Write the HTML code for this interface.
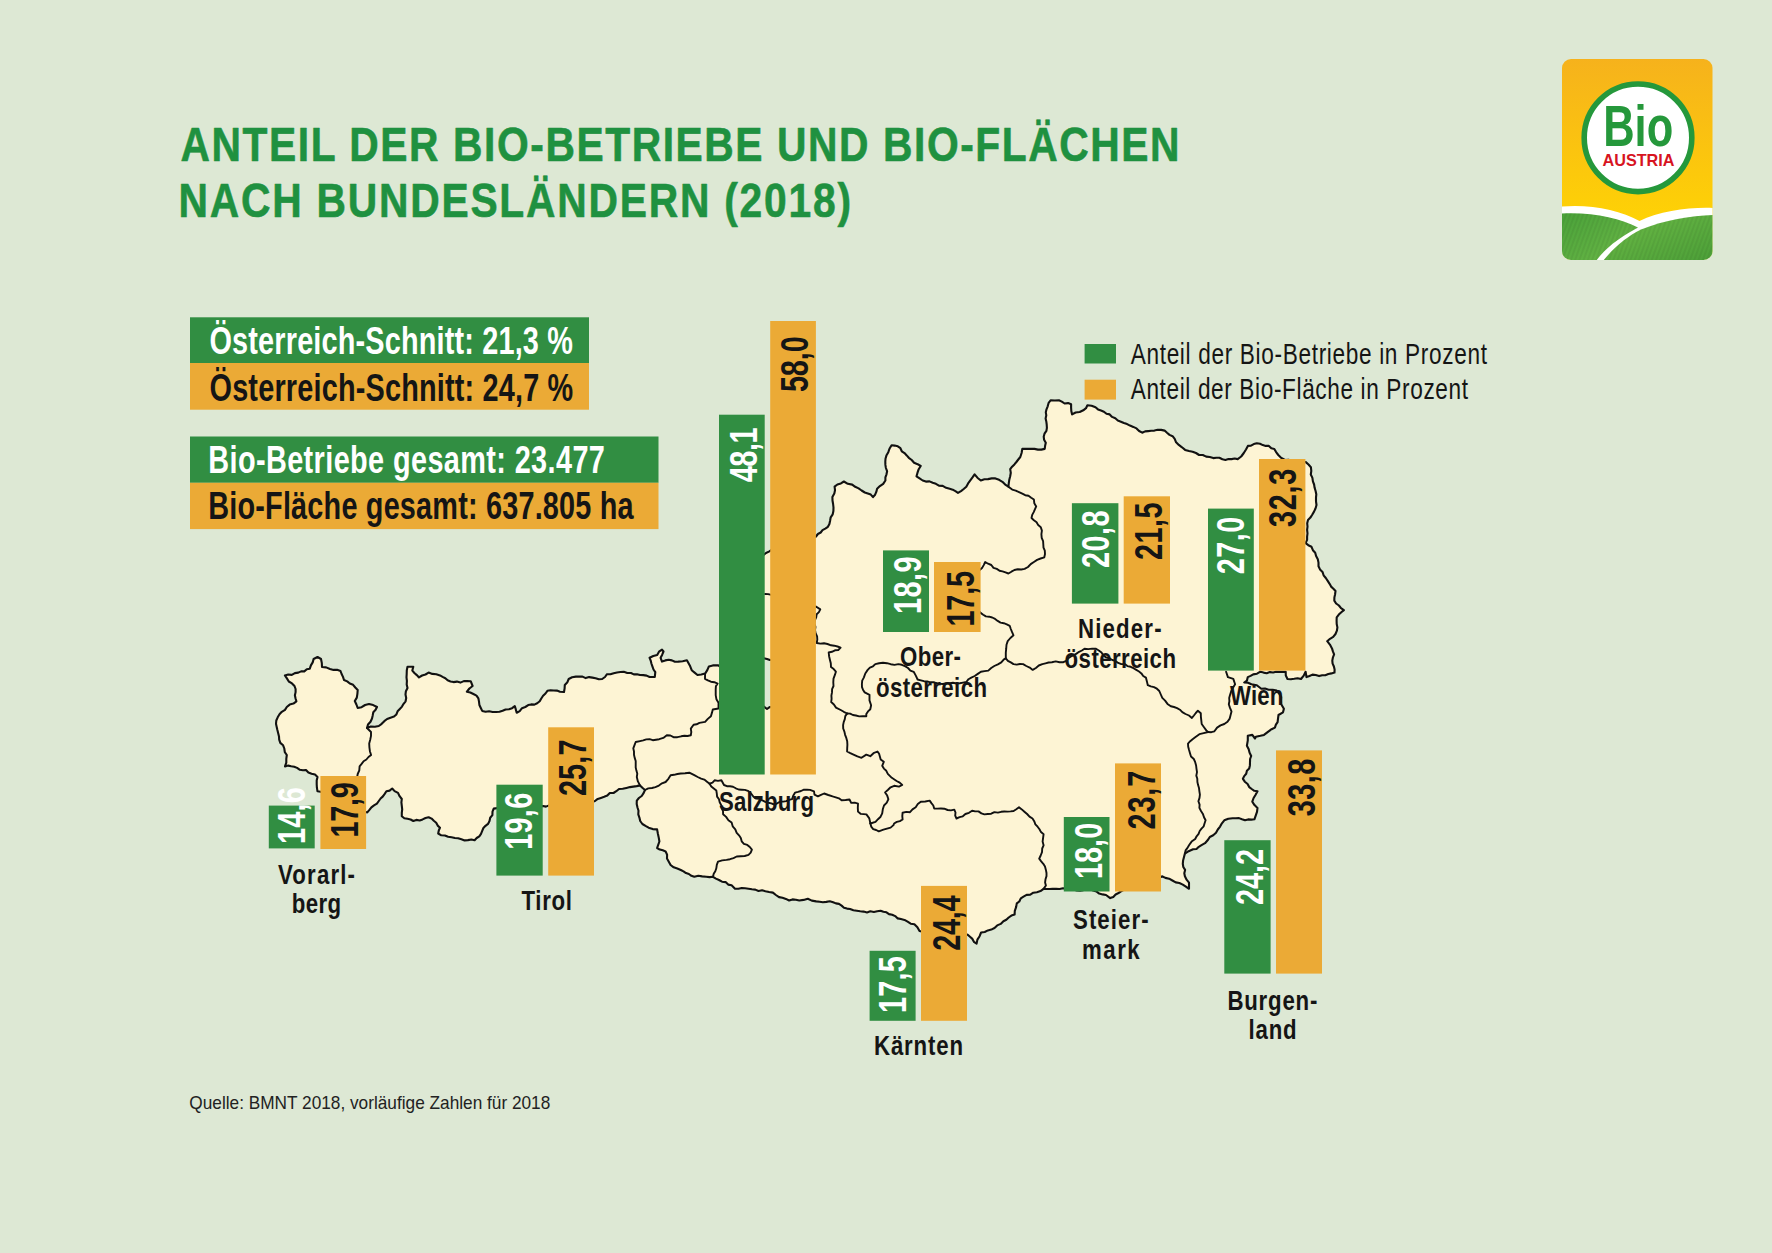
<!DOCTYPE html><html><head><meta charset="utf-8"><style>html,body{margin:0;padding:0;background:#dde8d4;overflow:hidden;width:1772px;height:1253px;}svg{display:block;}text{font-family:"Liberation Sans",sans-serif;}</style></head><body>
<svg width="1772" height="1253" viewBox="0 0 1772 1253">
<rect width="1772" height="1253" fill="#dde8d4"/>
<polygon points="317.5,657.0 321.0,659.0 321.8,663.0 322.0,667.0 326.1,667.4 330.0,669.0 333.5,669.9 337.1,669.8 340.5,671.0 341.6,674.0 343.0,676.9 344.0,680.0 347.2,681.4 349.8,683.5 353.1,684.8 355.3,687.5 357.7,690.0 357.4,693.8 356.8,697.6 354.8,701.0 356.4,704.5 357.7,708.0 361.6,707.2 365.1,705.0 369.0,704.0 373.2,705.1 377.0,707.0 375.6,709.8 373.3,712.2 372.7,715.4 372.0,718.5 370.5,721.7 368.0,724.5 367.0,728.0 370.8,726.6 374.9,726.8 378.8,726.0 381.7,723.8 384.3,721.2 387.1,719.0 390.5,717.7 394.0,716.6 396.4,714.4 397.6,711.3 399.8,709.0 402.0,706.6 403.6,703.8 405.6,701.3 406.2,698.0 405.5,694.5 405.9,691.2 407.5,688.0 406.7,684.5 406.9,680.9 406.5,677.4 406.7,673.9 406.8,670.3 407.5,666.8 413.3,666.8 412.3,670.6 414.4,673.0 416.8,675.1 419.0,677.4 422.1,675.5 425.5,674.5 428.6,672.6 432.3,673.9 436.3,674.2 440.0,675.4 442.6,676.9 445.3,678.2 447.6,680.3 450.5,681.4 453.5,682.1 456.9,681.6 460.4,682.6 463.8,681.1 467.2,681.1 470.7,681.2 472.6,686.0 469.4,688.5 466.9,691.7 470.3,692.5 473.4,694.0 476.5,695.6 478.4,698.4 479.0,701.6 479.4,705.0 480.8,708.0 482.2,710.9 485.6,711.7 489.1,711.3 492.6,712.0 496.0,712.0 499.5,711.8 502.6,710.8 505.6,709.5 509.0,709.2 512.1,708.2 514.8,706.1 515.8,709.4 516.7,712.8 519.7,711.1 522.0,708.2 525.3,707.0 528.2,705.1 531.2,704.4 534.4,704.6 537.2,703.3 539.7,701.3 541.3,698.5 543.1,695.7 545.5,693.5 547.4,690.8 550.6,690.2 553.8,690.5 556.9,690.6 560.0,691.7 564.0,692.0 564.6,688.5 564.8,684.9 567.4,682.2 568.7,679.0 572.1,677.2 575.9,676.6 579.2,676.5 582.5,676.6 585.7,678.1 589.1,677.1 592.4,677.6 595.6,678.2 598.9,679.3 602.2,679.0 605.0,677.0 607.0,674.2 610.4,674.3 613.7,673.2 617.0,672.5 620.4,672.0 623.8,671.8 627.3,673.0 631.0,673.0 633.8,674.4 637.0,674.2 640.0,675.0 643.3,675.1 646.6,675.6 649.6,677.0 654.8,677.0 655.3,672.1 653.5,669.5 652.4,666.4 651.4,663.5 650.7,660.6 649.6,657.8 653.3,656.0 657.2,654.9 659.0,651.7 662.0,649.6 663.5,651.5 662.2,654.7 660.6,657.8 662.0,661.6 665.3,660.4 668.7,659.7 671.9,660.4 674.9,661.8 678.3,661.6 682.7,661.2 686.9,660.2 689.8,665.4 691.7,670.2 694.6,672.6 697.5,675.0 701.3,674.5 705.1,673.6 707.3,670.1 708.9,666.4 712.8,665.4 718.5,665.4 720.9,667.6 721.8,670.9 723.2,673.9 724.5,676.9 726.3,679.6 728.9,681.7 731.1,684.1 733.8,686.2 734.9,689.2 737.6,691.3 739.8,693.7 741.1,696.7 742.0,700.0 745.3,700.6 748.5,701.4 751.9,701.9 755.2,702.5 758.3,703.7 761.5,704.8 764.2,706.9 767.0,709.0 769.6,707.1 772.9,707.0 775.8,706.0 778.3,703.9 781.0,702.5 783.9,701.4 786.9,700.6 790.0,700.0 790.2,696.5 792.0,693.4 793.9,690.3 794.0,686.8 794.4,683.4 795.0,680.0 792.7,677.3 790.3,674.8 788.9,671.6 787.2,668.6 786.7,665.0 785.0,662.0 781.9,662.1 778.7,662.6 776.0,660.3 773.0,659.8 769.9,660.0 767.0,659.0 763.8,658.3 760.4,658.8 757.4,657.5 754.5,655.5 751.4,654.8 748.0,655.0 748.1,651.8 747.1,648.7 746.7,645.5 745.8,642.4 746.7,639.1 746.5,635.9 746.9,632.7 745.8,629.5 744.9,626.4 745.5,623.2 745.0,620.0 746.2,617.0 747.3,614.0 747.8,611.0 748.2,607.9 748.4,604.8 747.5,601.6 747.8,598.5 747.8,595.3 747.1,592.1 746.9,589.0 747.6,586.0 748.6,583.0 750.0,580.0 751.7,577.3 754.1,574.9 754.9,571.7 757.0,569.2 758.9,566.6 759.9,563.5 760.0,560.0 761.8,557.5 763.6,554.9 766.0,553.0 768.9,551.6 771.6,549.9 774.6,548.7 777.9,548.6 781.2,548.7 784.4,548.2 787.1,546.4 790.0,545.0 793.0,544.3 796.1,544.0 798.5,541.7 801.6,541.3 804.8,541.3 807.7,540.6 810.6,539.7 813.3,537.9 816.0,536.5 817.9,534.0 820.7,532.5 822.5,530.1 825.3,528.6 827.9,526.8 829.4,524.0 830.1,520.7 830.7,517.3 832.7,514.3 833.4,511.0 833.5,507.5 833.1,504.0 832.5,500.5 832.4,497.0 834.3,493.6 835.0,490.2 834.6,486.7 837.4,484.5 840.9,483.4 843.9,481.5 847.8,483.8 852.2,484.6 855.2,486.8 858.6,488.4 861.6,490.5 864.8,492.5 867.8,493.5 870.8,494.6 873.0,497.1 875.1,494.7 876.3,491.9 877.1,488.8 879.9,486.1 883.2,483.8 885.4,480.5 885.4,477.4 886.5,474.3 887.1,471.2 885.9,468.0 885.4,464.9 885.3,461.8 885.5,458.7 886.4,455.6 888.3,452.2 889.6,448.5 891.6,445.2 894.7,445.6 897.8,446.3 900.4,448.2 901.8,451.3 904.5,453.1 906.7,455.4 908.8,457.8 911.7,460.0 914.1,462.8 917.6,464.2 920.7,466.0 918.7,469.2 917.5,472.7 916.5,476.3 919.6,478.4 922.7,480.5 925.9,481.6 929.5,481.4 932.7,482.8 935.9,483.8 938.9,485.6 942.7,485.9 946.1,487.8 949.7,488.8 952.7,489.7 955.4,491.2 958.0,492.9 961.0,491.1 963.7,489.0 966.3,486.7 968.1,483.4 970.3,480.4 972.5,477.4 974.6,474.3 977.4,477.7 980.8,480.5 984.4,479.3 988.0,479.1 991.7,478.4 995.4,478.4 999.1,479.8 1002.4,481.8 1005.2,484.6 1008.4,486.7 1008.8,483.2 1009.3,479.7 1010.2,476.3 1010.8,472.8 1010.2,469.2 1012.1,466.7 1014.4,464.4 1016.4,462.0 1018.3,459.5 1020.3,457.0 1021.6,453.0 1022.3,448.9 1025.3,448.8 1028.4,448.9 1031.5,448.9 1034.5,448.9 1037.9,449.6 1041.3,449.6 1044.7,448.9 1045.1,445.8 1045.8,442.7 1044.1,439.7 1043.7,436.7 1044.5,433.7 1046.4,430.9 1046.9,427.8 1046.7,424.5 1046.3,421.4 1045.6,418.4 1046.3,415.3 1045.8,412.3 1046.5,409.3 1047.7,406.3 1048.6,402.9 1050.8,400.2 1054.8,400.5 1058.9,400.2 1061.8,401.6 1064.6,403.5 1068.1,403.1 1071.1,404.2 1071.1,407.6 1071.3,411.0 1072.1,414.4 1075.6,412.5 1079.7,412.0 1083.3,410.3 1086.0,408.2 1087.4,405.2 1091.6,405.8 1095.5,407.3 1098.0,409.4 1101.0,410.5 1103.9,411.7 1106.5,413.8 1109.7,414.4 1112.1,416.9 1115.3,418.3 1117.8,420.5 1120.9,421.7 1123.9,423.0 1127.1,424.1 1130.0,425.6 1133.3,426.9 1136.5,428.4 1139.1,431.0 1142.2,432.7 1145.1,431.4 1148.2,431.1 1151.3,430.8 1154.4,430.6 1157.8,429.8 1161.2,429.9 1164.6,430.6 1167.0,432.8 1169.5,434.9 1172.6,436.2 1174.7,438.8 1176.1,442.3 1178.8,444.9 1182.0,447.3 1185.1,449.9 1189.0,451.0 1192.6,451.7 1196.0,453.0 1199.1,455.0 1202.8,455.0 1206.2,456.6 1209.8,457.0 1213.3,458.1 1216.4,457.7 1219.4,457.7 1222.4,459.2 1225.4,459.9 1228.5,459.0 1231.6,459.1 1234.7,458.5 1237.7,459.1 1241.2,456.5 1243.8,453.0 1246.0,449.5 1247.9,445.9 1251.0,445.7 1253.8,444.1 1256.8,443.3 1260.0,443.8 1262.8,445.1 1265.7,445.9 1268.9,445.9 1271.3,448.2 1274.3,448.9 1276.1,452.1 1278.3,455.0 1281.3,457.9 1285.0,460.0 1288.5,459.7 1291.9,461.0 1295.5,460.1 1298.8,461.8 1302.3,461.8 1305.8,462.1 1308.5,464.5 1310.9,467.2 1311.3,470.8 1310.8,474.5 1312.4,477.9 1312.9,481.4 1314.1,484.5 1314.6,487.8 1315.6,491.0 1316.3,494.3 1316.0,497.7 1316.0,501.3 1316.5,505.0 1315.5,508.5 1313.9,511.9 1312.2,514.8 1310.4,517.6 1308.0,520.0 1307.2,523.3 1307.5,526.6 1307.1,529.9 1307.5,533.3 1307.1,536.6 1307.1,539.9 1305.6,543.1 1308.3,545.2 1311.5,546.8 1312.9,550.2 1315.2,552.7 1316.1,556.1 1317.8,559.2 1318.5,562.6 1318.5,566.2 1320.0,569.4 1322.5,571.9 1323.6,575.3 1325.8,578.0 1327.7,580.9 1329.6,583.8 1331.1,586.6 1333.4,588.7 1335.5,591.0 1335.1,594.2 1334.4,597.4 1334.3,600.6 1336.1,603.5 1338.9,605.5 1341.0,608.2 1343.9,610.1 1341.3,612.3 1338.8,614.6 1336.7,617.3 1336.6,620.7 1336.7,624.0 1337.4,627.4 1336.9,630.7 1335.5,634.0 1333.2,636.9 1330.0,638.8 1327.2,641.2 1329.9,644.6 1332.0,648.4 1332.9,651.4 1334.1,654.3 1332.9,657.5 1332.3,660.6 1332.6,663.6 1333.9,666.5 1334.6,669.5 1334.5,672.6 1331.4,673.4 1328.3,674.0 1325.3,675.2 1322.2,675.3 1319.1,676.1 1315.7,675.0 1312.5,674.6 1309.5,676.0 1306.5,677.1 1305.6,671.7 1303.7,675.6 1301.0,679.0 1297.6,678.2 1294.2,678.8 1290.9,679.2 1287.5,679.0 1285.8,675.5 1285.7,671.7 1282.5,671.9 1279.4,671.9 1276.2,671.8 1273.1,672.5 1269.9,672.1 1266.7,673.2 1263.6,672.6 1260.4,671.7 1257.0,673.7 1253.2,674.4 1250.6,675.9 1247.8,677.1 1246.9,680.7 1244.2,682.5 1248.0,682.7 1251.4,684.3 1256.8,685.2 1261.3,688.8 1265.0,688.5 1268.6,689.7 1272.7,689.8 1276.7,690.6 1279.3,693.5 1281.2,697.0 1281.1,700.6 1281.2,704.2 1283.9,708.7 1283.0,712.3 1278.5,715.0 1278.0,718.6 1277.6,722.2 1275.9,724.7 1274.9,727.6 1271.6,729.2 1268.6,731.3 1264.0,734.9 1260.4,735.8 1255.9,736.7 1255.0,738.5 1252.3,734.9 1247.8,735.8 1247.8,740.3 1246.9,745.7 1248.7,749.3 1249.6,752.8 1251.2,756.0 1250.1,759.0 1250.0,762.2 1249.9,765.4 1249.2,768.5 1246.9,770.7 1246.2,773.8 1244.2,776.1 1242.9,778.8 1244.8,781.7 1247.6,784.0 1249.2,787.1 1251.7,789.0 1254.3,790.8 1257.5,791.3 1255.6,794.7 1253.6,798.0 1252.3,801.7 1254.5,805.1 1257.5,807.9 1257.0,811.9 1255.7,815.6 1254.4,819.3 1251.3,819.6 1248.1,819.4 1245.0,820.3 1242.0,819.3 1239.0,818.1 1235.8,818.2 1232.6,818.3 1228.3,818.7 1224.3,820.3 1221.9,823.3 1220.1,826.6 1217.8,829.5 1216.0,832.8 1213.2,835.3 1209.8,837.0 1207.6,840.3 1205.0,843.2 1201.5,845.2 1198.8,846.8 1196.5,849.0 1193.1,849.2 1190.3,850.5 1187.5,851.8 1184.9,853.5 1184.0,856.9 1183.1,860.4 1182.8,863.9 1183.3,867.0 1185.1,869.9 1184.3,873.2 1184.9,876.3 1186.6,879.7 1189.0,882.6 1189.0,885.7 1189.0,888.8 1185.9,886.7 1182.8,884.6 1179.4,883.0 1175.7,882.4 1172.4,880.5 1169.1,878.7 1165.4,877.9 1162.0,876.3 1159.1,878.1 1156.1,879.6 1152.6,879.7 1149.7,881.4 1146.2,881.6 1142.9,882.1 1140.0,884.0 1136.9,885.3 1134.0,886.8 1130.9,888.1 1127.6,888.8 1124.3,889.6 1121.4,891.2 1118.5,893.0 1115.6,894.5 1113.3,896.9 1110.2,898.1 1106.0,895.0 1102.6,894.4 1099.2,893.6 1096.4,891.4 1093.1,890.5 1090.0,889.0 1086.7,888.9 1083.3,890.1 1080.0,890.7 1076.7,890.5 1073.3,889.2 1070.0,888.9 1066.5,888.6 1063.0,888.2 1059.6,889.0 1056.1,888.9 1052.6,888.9 1049.6,889.0 1046.6,889.0 1043.6,888.9 1040.5,891.1 1036.9,892.2 1033.3,892.7 1030.3,894.6 1026.6,894.9 1023.5,896.7 1020.8,898.4 1019.3,901.5 1016.8,903.4 1016.1,907.1 1014.8,910.8 1014.6,914.6 1011.4,915.6 1008.7,917.5 1006.3,919.8 1003.4,921.3 1000.7,923.9 997.2,925.4 994.5,928.0 991.3,929.6 987.9,930.4 984.7,932.0 981.1,932.5 979.6,936.2 977.4,939.6 976.6,943.6 973.9,941.8 972.4,938.9 970.0,936.8 967.7,934.7 964.5,933.7 961.3,932.9 958.0,933.6 954.8,932.2 951.5,932.3 948.2,933.0 945.0,932.0 941.8,932.7 938.6,932.5 935.4,932.1 932.2,932.3 929.0,932.7 925.8,932.4 922.7,931.8 919.5,931.0 917.4,927.3 914.4,924.2 910.7,923.7 907.6,921.7 904.5,919.9 900.9,919.1 897.7,918.4 895.2,916.1 892.2,914.8 889.0,914.1 886.5,912.3 883.4,911.8 880.6,910.7 877.2,911.3 873.9,912.0 870.3,911.3 867.0,912.4 863.6,911.6 860.2,911.3 856.8,910.7 853.4,910.2 850.1,909.0 847.0,908.6 844.0,907.7 841.6,905.6 839.0,903.9 835.9,903.4 833.1,902.2 829.8,901.3 826.3,901.9 822.9,902.3 819.6,901.8 816.2,901.4 811.8,900.6 807.8,898.8 803.6,899.9 799.3,900.5 795.9,899.7 792.5,899.4 789.1,900.5 785.9,898.9 782.5,897.8 779.0,897.1 775.9,895.0 772.9,892.6 769.1,892.0 765.4,891.2 762.1,890.3 758.5,891.0 755.3,889.6 751.9,889.2 748.5,888.7 745.1,888.3 741.8,888.0 738.4,888.8 735.0,888.7 731.6,885.3 728.2,884.6 725.6,882.1 722.0,881.7 719.0,880.0 715.9,878.6 713.0,876.8 709.6,877.1 706.2,876.8 702.2,876.4 698.3,875.8 694.3,876.8 691.4,875.8 688.9,874.0 686.0,873.1 683.5,871.4 680.8,870.0 677.3,868.5 673.7,867.3 670.6,865.0 668.8,861.8 667.0,858.6 667.1,854.7 665.6,851.4 662.8,850.3 659.8,849.6 657.1,848.0 658.3,844.7 659.4,841.5 658.8,837.9 657.9,833.7 657.1,829.4 652.7,829.1 648.6,827.7 645.5,825.9 642.4,824.0 640.2,821.0 639.4,817.6 638.3,814.3 638.5,810.8 637.5,807.5 636.7,804.1 636.8,800.6 638.9,798.0 641.7,796.0 643.6,793.1 645.0,790.0 642.4,787.8 640.0,785.4 636.7,786.1 633.3,786.6 630.0,787.1 626.4,787.9 622.7,788.7 619.0,789.0 616.3,791.2 613.5,793.0 609.8,793.0 607.3,795.6 604.2,796.8 600.9,797.9 597.7,798.9 595.0,801.0 591.9,802.0 588.9,803.0 585.8,803.6 582.6,803.9 579.5,804.1 576.1,803.2 573.0,803.6 570.0,805.0 567.0,804.5 564.0,805.9 561.1,806.9 558.0,805.8 555.0,804.7 552.0,805.3 549.0,805.4 546.0,806.6 543.0,806.0 539.9,806.3 536.8,805.4 533.7,805.2 530.6,805.0 527.5,804.7 524.5,806.5 521.5,807.8 518.4,808.5 515.3,808.1 512.2,807.5 509.0,806.6 506.0,806.8 502.9,807.1 499.8,807.1 496.8,808.1 493.7,808.6 492.5,811.6 492.4,815.1 490.2,817.7 489.5,821.0 488.0,823.9 485.5,825.8 483.4,828.0 482.2,830.9 481.0,833.8 479.3,836.3 476.7,838.0 474.6,840.2 471.4,839.5 467.9,840.1 464.6,840.4 461.4,839.3 458.1,838.3 454.9,838.0 451.6,837.3 448.1,836.8 444.9,835.5 441.3,835.3 438.2,833.5 438.8,830.5 440.0,827.7 437.7,825.6 436.2,822.7 433.8,820.7 431.6,818.6 428.6,817.2 425.5,818.0 422.6,819.4 419.7,820.5 416.3,819.9 413.3,821.0 410.6,819.5 407.5,818.8 404.3,818.2 401.8,816.2 401.8,812.8 402.2,809.3 401.8,805.9 401.4,802.4 401.8,799.0 399.6,796.2 398.0,792.9 394.6,791.1 392.2,788.5 389.6,790.6 386.4,791.3 384.7,793.9 382.9,796.4 380.6,798.5 378.8,801.0 376.9,803.6 374.0,805.3 371.4,807.3 369.4,809.9 367.3,812.4 364.1,811.5 361.6,808.9 358.2,808.3 355.5,806.2 352.0,805.7 348.8,804.9 346.1,802.6 342.9,801.6 340.0,800.0 337.5,798.2 334.6,797.3 331.4,797.2 328.4,796.5 325.7,795.2 323.1,793.5 320.6,791.7 317.5,791.3 316.9,787.7 316.7,784.1 316.7,780.6 317.5,777.0 315.0,774.6 311.6,773.7 308.4,772.5 306.0,770.0 302.9,770.2 299.9,769.8 297.1,767.9 294.2,766.7 291.2,766.2 288.2,765.6 285.0,766.4 286.3,762.7 286.3,758.8 286.8,755.0 284.8,752.2 284.3,748.5 283.1,745.3 280.3,742.9 279.2,739.6 279.0,736.4 278.2,733.2 277.4,730.1 276.7,727.0 276.0,723.8 276.3,720.5 277.7,717.3 279.5,714.3 281.8,711.8 285.0,709.9 286.8,707.0 289.7,704.6 293.4,703.6 296.4,701.3 295.5,698.3 294.9,695.3 295.6,692.1 295.6,689.0 294.5,686.0 292.0,683.4 288.8,681.5 286.9,678.4 284.9,675.4 288.2,674.5 291.8,674.9 294.9,673.1 298.3,672.6 301.1,671.4 304.3,671.4 306.8,669.2 309.8,668.7 310.9,665.4 312.7,662.4 313.6,659.0" fill="#fdf4d4" stroke="#111" stroke-width="2.1" stroke-linejoin="round"/>
<polyline points="367.0,728.0 371.0,732.0 371.0,735.9 370.2,739.7 369.2,743.4 369.4,747.3 369.9,751.2 371.1,755.0 368.5,757.0 366.4,759.5 363.6,761.2 361.6,763.9 359.6,766.4 359.3,770.4 357.7,774.0 357.0,778.0" fill="none" stroke="#111" stroke-width="1.9" stroke-linejoin="round" stroke-linecap="round"/>
<polyline points="705.1,673.6 705.0,678.8 707.9,680.4 710.9,681.7 714.4,682.2 717.6,683.6 715.9,686.3 715.7,689.4 715.7,695.1 716.4,699.2 718.5,702.8 718.5,708.5 712.8,709.5 711.9,712.9 710.9,716.2 707.8,718.9 705.1,721.9 699.4,722.9 696.6,724.3 693.6,724.8 690.8,728.6 691.3,732.0 690.8,735.3 687.6,736.0 684.4,735.8 681.2,736.3 677.4,737.2 673.5,737.2 670.4,735.5 666.8,735.3 663.3,737.9 659.2,739.2 656.0,739.7 652.8,740.2 649.6,739.2 646.3,739.4 643.2,740.4 640.0,741.1 635.7,742.0 634.5,745.2 633.3,748.4 634.0,751.5 634.0,754.8 634.7,757.9 635.7,761.0 635.7,764.3 635.7,767.5 636.4,770.6 637.3,773.7 636.8,777.0 637.9,781.4 640.0,785.4" fill="none" stroke="#111" stroke-width="1.9" stroke-linejoin="round" stroke-linecap="round"/>
<polyline points="645.0,790.0 648.3,788.4 652.0,788.0 655.4,787.1 658.9,785.6 662.0,783.3 665.6,782.0 668.4,778.8 670.6,775.2 674.0,774.8 677.4,774.0 680.8,773.5 685.1,773.3 689.3,772.7 694.3,775.2 697.7,777.0 701.1,778.6 704.3,779.6 707.0,781.7 709.6,783.7" fill="none" stroke="#111" stroke-width="1.9" stroke-linejoin="round" stroke-linecap="round"/>
<polyline points="709.6,783.7 711.3,786.5 713.8,788.5 716.3,790.5 716.8,793.6 717.1,796.6 719.0,799.3 719.7,802.3 721.2,805.1 721.7,808.2 723.0,811.0 723.1,814.2 726.1,816.9 728.4,820.2 731.6,822.6 732.7,826.3 735.3,829.3 736.7,832.8 739.0,835.3 740.8,838.0 741.7,841.3 743.9,843.8 747.3,844.9 749.8,847.0 751.9,849.7 750.7,852.6 748.5,854.8 744.7,856.0 740.7,856.2 736.7,856.5 733.5,858.1 730.0,859.2 726.5,859.9 722.2,860.4 718.0,861.6 716.8,864.9 716.3,868.3 715.3,871.2 713.7,873.8 713.0,876.8" fill="none" stroke="#111" stroke-width="1.9" stroke-linejoin="round" stroke-linecap="round"/>
<polyline points="709.6,783.7 712.5,782.6 714.6,780.3 718.0,780.9 721.4,780.3 724.0,785.0 726.9,786.2 730.0,786.2 733.0,786.7 735.8,788.3 738.6,789.5 741.7,789.7 744.9,789.9 747.9,790.8 750.5,792.7 753.5,796.8 756.2,798.6 759.5,798.9 762.4,800.4 765.3,801.8 768.3,802.8 771.3,803.4 774.2,804.5 777.3,803.3 780.2,801.6 783.3,801.6 786.2,801.1 789.1,799.9 792.0,799.2 793.2,795.8 795.0,792.7 798.0,791.9 801.0,791.0 803.9,789.7 807.0,789.6 810.0,789.9 814.0,791.3 814.5,794.7 817.9,796.4 821.0,794.9 824.1,793.5 828.3,795.0 832.6,796.4 835.8,797.3 838.9,798.3 841.6,800.3 845.6,800.0 849.5,799.5 851.2,802.9 854.7,802.6 858.0,803.7 857.8,807.7 858.0,811.6 860.8,813.9 866.4,814.4 869.3,818.4 870.4,823.5" fill="none" stroke="#111" stroke-width="1.9" stroke-linejoin="round" stroke-linecap="round"/>
<polyline points="870.4,823.5 871.2,826.6 873.2,829.1 876.1,830.0 878.8,831.4 883.4,829.7 887.0,828.6 890.6,827.6 893.5,825.1 894.1,823.5 896.8,821.9 899.9,821.1 902.6,819.5 902.3,816.1 902.6,812.7 906.3,811.9 910.0,812.2 912.5,809.4 915.7,807.3 917.8,804.1 920.8,801.8 925.3,801.5 929.7,800.6 931.4,803.1 933.3,805.5 934.2,808.5 937.6,808.6 940.9,808.5 944.3,808.7 947.6,810.0 950.9,810.4 954.3,809.6 955.5,812.5 955.2,815.7 956.5,818.5 959.6,817.2 962.8,816.3 965.4,814.0 969.0,812.8 972.1,810.7 975.2,811.4 978.5,811.4 981.4,813.4 984.4,814.4 987.8,814.0 991.2,813.7 994.4,812.1 997.9,812.6 1001.2,811.8 1004.3,811.5 1007.5,811.6 1010.6,811.4 1013.6,811.0 1016.3,809.2 1019.0,807.3 1021.8,809.4 1024.4,811.7 1027.1,814.0 1029.5,816.6 1032.5,818.5 1034.2,821.2 1035.4,824.3 1037.6,826.7 1039.5,829.3 1041.0,832.1 1043.6,834.2 1043.1,837.9 1042.6,841.6 1043.6,845.3 1042.2,848.5 1042.0,852.2 1040.7,855.5 1039.2,858.7 1041.2,861.3 1043.3,863.8 1045.0,866.6 1045.9,869.9 1046.5,873.0 1046.5,876.1 1045.5,879.3 1045.1,882.4 1045.9,885.5 1043.6,888.9" fill="none" stroke="#111" stroke-width="1.9" stroke-linejoin="round" stroke-linecap="round"/>
<polyline points="870.4,823.5 875.5,821.8 878.0,819.2 880.6,816.7 882.2,813.3 882.8,809.3 884.0,805.5 886.8,802.7 888.4,799.2 887.2,795.6 885.1,792.4 887.8,790.0 890.6,787.3 894.2,785.8 899.0,786.6 902.2,785.0 899.7,782.6 896.6,781.0 891.8,777.8 887.8,773.8 886.3,770.8 883.9,768.6 882.2,765.8 883.8,761.8 880.7,759.4 879.1,753.8 877.5,751.5 873.5,753.2 870.3,756.2 866.3,754.6 861.5,757.8 857.4,756.4 853.5,754.6 850.3,753.1 847.1,751.5 847.2,748.1 847.4,744.7 847.2,741.3 846.3,737.9 845.1,734.8 844.4,731.6 843.2,728.5 843.1,725.1 843.7,722.1 844.8,719.2 845.3,716.1 847.1,713.5" fill="none" stroke="#111" stroke-width="1.9" stroke-linejoin="round" stroke-linecap="round"/>
<polyline points="765.0,594.0 768.2,594.1 771.3,594.9 774.2,596.6 777.3,597.0 780.5,597.0 783.8,596.8 787.0,596.8 790.0,598.0 792.7,599.8 795.5,601.3 798.9,601.1 801.8,602.3 804.6,603.6 807.4,605.3 810.7,605.2 813.8,605.8 816.7,607.0 820.3,609.4 818.9,612.1 816.7,614.2 816.2,617.3 814.8,620.4 814.5,623.5 815.5,626.9 815.0,630.0 815.6,633.2 817.1,636.3 817.3,639.6 816.7,643.0 820.3,643.6 824.0,643.3 827.5,644.0 831.0,645.3 834.3,645.7 837.5,646.5 840.6,647.7 838.3,650.0 835.0,650.3 831.9,651.8 828.7,652.5 829.1,656.2 829.9,659.7 830.8,663.3 831.0,667.0 833.7,669.1 835.9,671.7 834.8,675.2 833.5,678.6 833.3,682.3 833.5,686.0 832.1,689.1 832.0,692.4 831.4,695.6 831.6,698.8 831.2,702.0 833.9,704.5 836.0,707.6 840.7,710.0 843.8,711.8 847.1,713.5" fill="none" stroke="#111" stroke-width="1.9" stroke-linejoin="round" stroke-linecap="round"/>
<polyline points="847.1,713.5 850.2,713.6 852.9,715.0 855.9,715.5 859.3,716.4 862.8,716.2 866.3,716.3 866.3,714.0 868.0,711.4 870.3,709.2 871.1,705.2 869.5,700.4 869.5,694.8 864.7,692.4 863.1,690.0 862.0,687.1 861.9,684.0 862.2,680.6 863.8,677.6 865.3,673.5 867.7,669.9 869.9,667.6 873.0,666.3 875.3,664.1 879.1,663.3 883.0,662.7 886.9,663.2 890.7,664.2 894.5,664.9 898.4,664.1 901.8,664.8 905.0,666.1 908.0,668.0 910.4,670.6 913.7,671.8 915.8,675.6 917.6,679.5 920.8,680.3 923.9,681.2 927.2,681.4 930.3,682.3 933.7,682.1 936.7,683.3 939.9,683.7 943.1,684.0 946.3,683.3 949.7,683.2 953.0,682.8 956.4,683.5 959.8,683.3 963.0,682.6 966.3,682.0 968.5,679.2 971.3,677.6 974.7,676.0 977.8,673.9 980.9,671.8 984.6,671.1 988.3,670.6 991.2,668.0 994.3,666.0 997.9,664.3 1001.3,662.4 1003.9,659.3 1005.8,658.4" fill="none" stroke="#111" stroke-width="1.9" stroke-linejoin="round" stroke-linecap="round"/>
<polyline points="1008.4,486.7 1012.2,489.6 1015.7,490.6 1019.0,492.1 1022.3,493.7 1025.2,495.2 1028.5,495.8 1031.2,497.7 1033.9,499.5 1034.3,503.2 1036.2,506.4 1034.9,509.3 1033.7,512.1 1032.2,514.9 1031.5,518.0 1033.9,520.2 1036.6,522.2 1038.2,525.1 1040.8,527.2 1041.9,530.6 1041.4,534.2 1041.7,537.8 1043.1,541.1 1043.3,544.3 1043.5,547.6 1044.8,550.7 1045.0,554.0 1044.3,557.3 1040.6,558.5 1037.1,559.9 1033.9,562.0 1030.7,564.1 1028.0,567.0 1024.6,568.9 1021.3,569.5 1017.7,569.3 1014.4,570.0 1011.4,571.7 1008.4,573.5 1005.5,572.4 1002.5,571.4 999.5,570.7 996.8,568.9 993.5,567.8 991.3,565.0 988.1,563.7 985.2,562.0 983.7,565.1 982.0,568.1 979.1,570.5 977.0,573.2 975.9,576.5 975.0,580.0 974.5,583.1 974.5,586.2 974.4,589.4 973.9,592.5 974.0,595.6 975.6,598.8 975.3,601.9 975.0,605.0 976.7,607.7 978.4,610.5 980.6,612.9 983.2,614.7 985.9,616.4 989.2,616.7 992.2,617.5 995.1,618.9 997.7,620.9 1000.5,622.6 1003.8,623.2 1006.8,624.3 1009.7,625.8 1010.8,629.0 1012.1,632.2 1013.5,635.3 1010.4,638.0 1007.7,641.1 1006.5,644.8 1006.2,648.7 1005.8,652.6 1005.8,658.4" fill="none" stroke="#111" stroke-width="1.9" stroke-linejoin="round" stroke-linecap="round"/>
<polyline points="1005.8,658.4 1007.9,660.9 1010.8,662.4 1013.5,664.1 1016.7,664.6 1019.9,664.0 1023.1,664.1 1026.3,666.0 1029.7,667.6 1032.7,669.9 1035.9,668.0 1038.8,665.5 1042.3,664.1 1045.5,663.3 1048.6,662.5 1051.9,662.2 1055.7,661.4 1059.6,662.3 1063.4,662.2 1066.3,660.8 1068.3,658.2 1071.0,656.5 1073.8,655.2 1076.5,653.6 1079.1,651.8 1081.9,650.5 1084.5,648.8 1088.3,649.1 1092.2,648.6 1096.0,648.8 1098.8,650.5 1101.5,652.5 1103.4,655.5 1106.1,657.4 1109.4,658.4 1112.3,660.0 1115.5,660.9 1118.2,662.9 1121.3,664.1 1124.8,664.1 1127.4,666.1 1130.7,666.8 1133.5,668.2 1136.3,669.9 1139.0,671.5 1141.4,673.4 1143.2,676.0 1145.9,677.6 1146.9,681.4 1147.8,685.2 1150.8,686.4 1154.0,687.1 1156.9,688.7 1159.3,691.0 1160.8,694.5 1162.3,697.9 1165.1,700.6 1167.5,703.9 1170.8,706.3 1174.0,707.0 1177.1,708.1 1179.9,709.7 1182.3,712.1 1185.5,714.0 1189.0,715.5 1191.9,717.9 1193.9,715.5 1195.8,713.0 1197.9,710.7 1200.8,713.2 1200.9,716.8 1201.3,720.4 1201.7,724.0 1204.0,727.2 1206.3,730.4 1208.0,732.0" fill="none" stroke="#111" stroke-width="1.9" stroke-linejoin="round" stroke-linecap="round"/>
<polyline points="1208.0,732.0 1211.3,732.2 1214.4,731.3 1217.1,727.6 1220.5,725.4 1224.3,724.0 1227.5,721.8 1229.7,718.6 1230.6,715.0 1231.5,711.4 1230.0,707.9 1228.8,704.2 1229.4,701.2 1229.2,698.0 1230.0,695.0 1231.2,691.2 1233.0,687.7 1235.1,684.3 1233.3,678.9 1227.9,677.1 1226.1,671.7" fill="none" stroke="#111" stroke-width="1.9" stroke-linejoin="round" stroke-linecap="round"/>
<polyline points="1208.0,732.0 1203.7,733.1 1199.4,734.2 1195.2,737.3 1192.6,739.2 1190.2,741.2 1188.0,743.6 1188.2,746.8 1189.0,749.8 1190.0,753.2 1191.0,756.5 1193.8,759.0 1195.2,762.2 1196.1,765.5 1196.5,768.8 1197.0,772.1 1196.3,775.6 1197.3,778.8 1197.4,782.0 1198.1,785.1 1199.0,788.1 1199.4,791.3 1199.9,794.6 1199.5,797.9 1198.4,801.3 1199.6,804.6 1199.4,807.9 1201.0,811.0 1202.9,813.9 1204.0,817.2 1205.6,820.3 1204.6,823.2 1203.7,826.3 1201.5,828.6 1199.7,831.0 1198.6,833.9 1196.6,836.3 1195.2,839.0 1191.6,841.6 1189.0,845.2 1187.5,847.9 1185.6,850.4 1184.9,853.5" fill="none" stroke="#111" stroke-width="1.9" stroke-linejoin="round" stroke-linecap="round"/>
<rect x="268.8" y="805.6" width="45.9" height="42.8" fill="#318e42"/>
<rect x="320.4" y="776.0" width="45.7" height="73.0" fill="#ebaa36"/>
<rect x="496.4" y="784.7" width="46.3" height="90.9" fill="#318e42"/>
<rect x="548.2" y="727.3" width="45.8" height="148.3" fill="#ebaa36"/>
<rect x="719.0" y="414.7" width="45.7" height="359.8" fill="#318e42"/>
<rect x="770.2" y="321.0" width="45.7" height="453.5" fill="#ebaa36"/>
<rect x="883.0" y="550.4" width="46.0" height="81.6" fill="#318e42"/>
<rect x="934.0" y="562.0" width="46.6" height="70.0" fill="#ebaa36"/>
<rect x="1071.9" y="503.2" width="46.5" height="100.4" fill="#318e42"/>
<rect x="1123.7" y="496.3" width="46.3" height="107.3" fill="#ebaa36"/>
<rect x="1208.0" y="508.6" width="45.8" height="162.0" fill="#318e42"/>
<rect x="1259.0" y="459.0" width="46.4" height="211.6" fill="#ebaa36"/>
<rect x="869.6" y="950.8" width="46.0" height="70.0" fill="#318e42"/>
<rect x="921.0" y="885.9" width="46.0" height="134.9" fill="#ebaa36"/>
<rect x="1063.8" y="817.0" width="45.7" height="74.5" fill="#318e42"/>
<rect x="1115.0" y="763.4" width="46.0" height="128.1" fill="#ebaa36"/>
<rect x="1224.3" y="840.2" width="46.3" height="133.4" fill="#318e42"/>
<rect x="1276.0" y="750.4" width="46.0" height="223.2" fill="#ebaa36"/>
<rect x="190" y="317.3" width="399" height="45.7" fill="#318e42"/>
<rect x="190" y="363" width="399" height="46.7" fill="#ebaa36"/>
<rect x="190" y="436.5" width="468.5" height="46.3" fill="#318e42"/>
<rect x="190" y="482.8" width="468.5" height="46.3" fill="#ebaa36"/>
<rect x="1084.6" y="344" width="31.4" height="19.5" fill="#318e42"/>
<rect x="1084.6" y="379.7" width="31.4" height="19.9" fill="#ebaa36"/>
<text transform="translate(180.50,160.80) scale(0.850,1)" font-size="48.0" font-weight="bold" fill="#1f9140" textLength="1175.41" lengthAdjust="spacing" stroke="#1f9140" stroke-width="0.60" stroke-linejoin="round">ANTEIL DER BIO-BETRIEBE UND BIO-FLÄCHEN</text>
<text transform="translate(178.50,217.00) scale(0.850,1)" font-size="48.0" font-weight="bold" fill="#1f9140" textLength="791.18" lengthAdjust="spacing" stroke="#1f9140" stroke-width="0.60" stroke-linejoin="round">NACH BUNDESLÄNDERN (2018)</text>
<text transform="translate(209.50,353.90) scale(0.760,1)" font-size="38.0" font-weight="bold" fill="#fff" textLength="478.16" lengthAdjust="spacing">Österreich-Schnitt: 21,3 %</text>
<text transform="translate(209.50,400.60) scale(0.760,1)" font-size="38.0" font-weight="bold" fill="#151515" textLength="478.68" lengthAdjust="spacing">Österreich-Schnitt: 24,7 %</text>
<text transform="translate(208.30,472.50) scale(0.760,1)" font-size="38.0" font-weight="bold" fill="#fff" textLength="521.84" lengthAdjust="spacing">Bio-Betriebe gesamt: 23.477</text>
<text transform="translate(208.30,519.20) scale(0.760,1)" font-size="38.0" font-weight="bold" fill="#151515" textLength="559.61" lengthAdjust="spacing">Bio-Fläche gesamt: 637.805 ha</text>
<text transform="translate(1130.70,363.50) scale(0.780,1)" font-size="29.0" font-weight="normal" fill="#151515" textLength="456.79" lengthAdjust="spacing">Anteil der Bio-Betriebe in Prozent</text>
<text transform="translate(1130.70,399.20) scale(0.780,1)" font-size="29.0" font-weight="normal" fill="#151515" textLength="432.44" lengthAdjust="spacing">Anteil der Bio-Fläche in Prozent</text>
<text x="189.30" y="1108.60" font-size="19.0" font-weight="normal" fill="#222" textLength="361.00" lengthAdjust="spacingAndGlyphs">Quelle: BMNT 2018, vorläufige Zahlen für 2018</text>
<text transform="translate(278.00,884.00) scale(0.780,1)" font-size="28.5" font-weight="bold" fill="#151515" textLength="98.72" lengthAdjust="spacing">Vorarl-</text>
<text transform="translate(291.80,913.00) scale(0.780,1)" font-size="28.5" font-weight="bold" fill="#151515" textLength="63.33" lengthAdjust="spacing">berg</text>
<text transform="translate(521.50,910.00) scale(0.780,1)" font-size="28.5" font-weight="bold" fill="#151515" textLength="64.74" lengthAdjust="spacing">Tirol</text>
<text transform="translate(719.00,811.00) scale(0.780,1)" font-size="28.5" font-weight="bold" fill="#151515" textLength="121.79" lengthAdjust="spacing">Salzburg</text>
<text transform="translate(900.00,666.00) scale(0.780,1)" font-size="28.5" font-weight="bold" fill="#151515" textLength="78.21" lengthAdjust="spacing">Ober-</text>
<text transform="translate(876.00,697.40) scale(0.780,1)" font-size="28.5" font-weight="bold" fill="#151515" textLength="142.31" lengthAdjust="spacing">österreich</text>
<text transform="translate(1078.00,637.80) scale(0.780,1)" font-size="28.5" font-weight="bold" fill="#151515" textLength="107.18" lengthAdjust="spacing">Nieder-</text>
<text transform="translate(1064.60,668.00) scale(0.780,1)" font-size="28.5" font-weight="bold" fill="#151515" textLength="142.82" lengthAdjust="spacing">österreich</text>
<text transform="translate(1230.00,704.80) scale(0.780,1)" font-size="28.5" font-weight="bold" fill="#151515" textLength="68.46" lengthAdjust="spacing">Wien</text>
<text transform="translate(874.00,1054.60) scale(0.780,1)" font-size="28.5" font-weight="bold" fill="#151515" textLength="114.10" lengthAdjust="spacing">Kärnten</text>
<text transform="translate(1073.00,928.50) scale(0.780,1)" font-size="28.5" font-weight="bold" fill="#151515" textLength="96.92" lengthAdjust="spacing">Steier-</text>
<text transform="translate(1082.00,958.70) scale(0.780,1)" font-size="28.5" font-weight="bold" fill="#151515" textLength="73.97" lengthAdjust="spacing">mark</text>
<text transform="translate(1227.40,1009.50) scale(0.780,1)" font-size="28.5" font-weight="bold" fill="#151515" textLength="115.26" lengthAdjust="spacing">Burgen-</text>
<text transform="translate(1248.50,1039.00) scale(0.780,1)" font-size="28.5" font-weight="bold" fill="#151515" textLength="61.79" lengthAdjust="spacing">land</text>
<text transform="translate(305.22,843.90) rotate(-90) scale(0.740,1)" font-size="39.0" font-weight="bold" fill="#fff" textLength="76.49" lengthAdjust="spacing" stroke="#fff" stroke-width="0.00" stroke-linejoin="round">14,6</text>
<text transform="translate(358.42,837.50) rotate(-90) scale(0.740,1)" font-size="39.0" font-weight="bold" fill="#151515" textLength="74.73" lengthAdjust="spacing" stroke="#151515" stroke-width="0.00" stroke-linejoin="round">17,9</text>
<text transform="translate(532.32,849.80) rotate(-90) scale(0.740,1)" font-size="39.0" font-weight="bold" fill="#fff" textLength="77.03" lengthAdjust="spacing" stroke="#fff" stroke-width="0.00" stroke-linejoin="round">19,6</text>
<text transform="translate(585.72,796.10) rotate(-90) scale(0.740,1)" font-size="39.0" font-weight="bold" fill="#151515" textLength="76.62" lengthAdjust="spacing" stroke="#151515" stroke-width="0.00" stroke-linejoin="round">25,7</text>
<text transform="translate(757.22,482.30) rotate(-90) scale(0.740,1)" font-size="39.0" font-weight="bold" fill="#fff" textLength="74.19" lengthAdjust="spacing" stroke="#fff" stroke-width="0.00" stroke-linejoin="round">48,1</text>
<text transform="translate(808.22,392.10) rotate(-90) scale(0.740,1)" font-size="39.0" font-weight="bold" fill="#151515" textLength="75.41" lengthAdjust="spacing" stroke="#151515" stroke-width="0.00" stroke-linejoin="round">58,0</text>
<text transform="translate(921.22,614.10) rotate(-90) scale(0.740,1)" font-size="39.0" font-weight="bold" fill="#fff" textLength="77.84" lengthAdjust="spacing" stroke="#fff" stroke-width="0.00" stroke-linejoin="round">18,9</text>
<text transform="translate(974.22,626.60) rotate(-90) scale(0.740,1)" font-size="39.0" font-weight="bold" fill="#151515" textLength="75.27" lengthAdjust="spacing" stroke="#151515" stroke-width="0.00" stroke-linejoin="round">17,5</text>
<text transform="translate(1109.02,568.10) rotate(-90) scale(0.740,1)" font-size="39.0" font-weight="bold" fill="#fff" textLength="77.84" lengthAdjust="spacing" stroke="#fff" stroke-width="0.00" stroke-linejoin="round">20,8</text>
<text transform="translate(1161.62,560.00) rotate(-90) scale(0.740,1)" font-size="39.0" font-weight="bold" fill="#151515" textLength="77.84" lengthAdjust="spacing" stroke="#151515" stroke-width="0.00" stroke-linejoin="round">21,5</text>
<text transform="translate(1244.02,574.30) rotate(-90) scale(0.740,1)" font-size="39.0" font-weight="bold" fill="#fff" textLength="77.97" lengthAdjust="spacing" stroke="#fff" stroke-width="0.00" stroke-linejoin="round">27,0</text>
<text transform="translate(1296.02,527.00) rotate(-90) scale(0.740,1)" font-size="39.0" font-weight="bold" fill="#151515" textLength="78.78" lengthAdjust="spacing" stroke="#151515" stroke-width="0.00" stroke-linejoin="round">32,3</text>
<text transform="translate(905.72,1013.00) rotate(-90) scale(0.740,1)" font-size="39.0" font-weight="bold" fill="#fff" textLength="76.76" lengthAdjust="spacing" stroke="#fff" stroke-width="0.00" stroke-linejoin="round">17,5</text>
<text transform="translate(959.52,950.80) rotate(-90) scale(0.740,1)" font-size="39.0" font-weight="bold" fill="#151515" textLength="74.86" lengthAdjust="spacing" stroke="#151515" stroke-width="0.00" stroke-linejoin="round">24,4</text>
<text transform="translate(1101.92,879.00) rotate(-90) scale(0.740,1)" font-size="39.0" font-weight="bold" fill="#fff" textLength="75.95" lengthAdjust="spacing" stroke="#fff" stroke-width="0.00" stroke-linejoin="round">18,0</text>
<text transform="translate(1154.52,829.50) rotate(-90) scale(0.740,1)" font-size="39.0" font-weight="bold" fill="#151515" textLength="79.32" lengthAdjust="spacing" stroke="#151515" stroke-width="0.00" stroke-linejoin="round">23,7</text>
<text transform="translate(1262.72,904.90) rotate(-90) scale(0.740,1)" font-size="39.0" font-weight="bold" fill="#fff" textLength="75.68" lengthAdjust="spacing" stroke="#fff" stroke-width="0.00" stroke-linejoin="round">24,2</text>
<text transform="translate(1314.62,816.30) rotate(-90) scale(0.740,1)" font-size="39.0" font-weight="bold" fill="#151515" textLength="77.97" lengthAdjust="spacing" stroke="#151515" stroke-width="0.00" stroke-linejoin="round">33,8</text>
<g>
<defs>
<linearGradient id="lg1" x1="0" y1="0" x2="0" y2="1"><stop offset="0" stop-color="#f6b21c"/><stop offset="0.45" stop-color="#fbc40f"/><stop offset="0.8" stop-color="#fed205"/></linearGradient>
<linearGradient id="lg2" x1="0" y1="0" x2="1" y2="1"><stop offset="0" stop-color="#4aa23a"/><stop offset="1" stop-color="#6cb947"/></linearGradient>
<linearGradient id="lg3" x1="0" y1="0" x2="1" y2="1"><stop offset="0" stop-color="#6cbb46"/><stop offset="1" stop-color="#4c9f38"/></linearGradient>
<pattern id="stripes" width="4" height="4" patternUnits="userSpaceOnUse" patternTransform="rotate(20)"><rect width="2" height="4" fill="#000" fill-opacity="0.05"/></pattern>
<clipPath id="lc"><rect x="1562" y="59" width="150.5" height="201" rx="9"/></clipPath>
</defs>
<g clip-path="url(#lc)">
<rect x="1562" y="59" width="151" height="201" fill="url(#lg1)"/>
<path d="M1562,206.5 C1590,204 1620,210 1639.5,221 C1660,211 1690,207 1713,208 L1713,261 L1562,261 Z" fill="#fff"/>
<path d="M1562,213.5 C1592,212 1620,218 1638,227.5 C1622,236 1606,247 1596,261 L1562,261 Z" fill="url(#lg2)"/>
<path d="M1562,213.5 C1592,212 1620,218 1638,227.5 C1622,236 1606,247 1596,261 L1562,261 Z" fill="url(#stripes)"/>
<path d="M1603,261 C1615,246 1628,236 1641,229.5 C1665,220 1690,216 1713,215 L1713,261 Z" fill="url(#lg3)"/>
<path d="M1603,261 C1615,246 1628,236 1641,229.5 C1665,220 1690,216 1713,215 L1713,261 Z" fill="url(#stripes)"/>
</g>
<circle cx="1638" cy="137.8" r="53.8" fill="#fff" stroke="#25983b" stroke-width="5.6"/>
<text x="1638.2" y="146.3" font-size="57" font-weight="bold" fill="#25983b" text-anchor="middle" textLength="70" lengthAdjust="spacingAndGlyphs" font-family="Liberation Sans, sans-serif">Bio</text>
<text x="1638.5" y="165.5" font-size="16.3" font-weight="bold" fill="#d7141f" text-anchor="middle" textLength="72" lengthAdjust="spacingAndGlyphs" font-family="Liberation Sans, sans-serif">AUSTRIA</text>
</g>

</svg></body></html>
